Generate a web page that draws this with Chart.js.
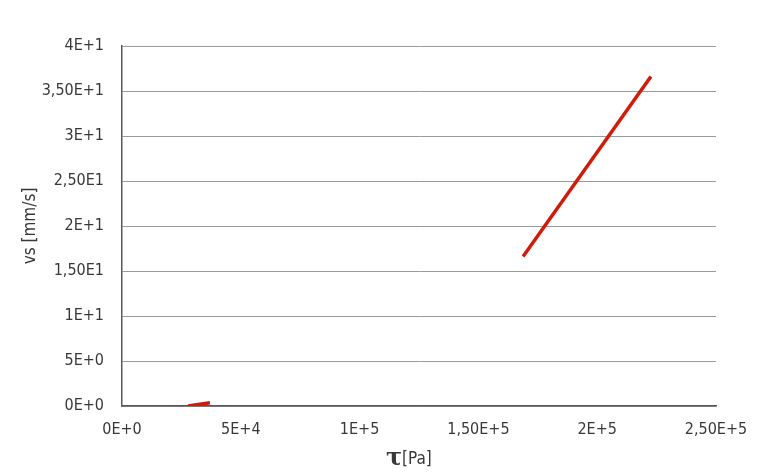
<!DOCTYPE html>
<html>
<head>
<meta charset="utf-8">
<script src="https://cdn.jsdelivr.net/npm/chart.js@4/dist/chart.umd.min.js"></script>
<style>
  body { margin: 0; background: #fff; }
  #wrap { position: relative; width: 768px; height: 476px; }
</style>
</head>
<body>
<div id="wrap"><canvas id="chart" width="768" height="476"></canvas></div>
<script>
// data
const lowTau = [27800, 37000];
const lowVs = [0.0, 0.35];
const highTau = [168800, 222600];
const highVs = [16.6, 36.6];

const xTicks = [0, 50000, 100000, 150000, 200000, 250000];
const xLabels = ["0E+0", "5E+4", "1E+5", "1,50E+5", "2E+5", "2,50E+5"];
const yTicks = [0, 5, 10, 15, 20, 25, 30, 35, 40];
const yLabels = ["0E+0", "5E+0", "1E+1", "1,50E1", "2E+1", "2,50E1", "3E+1", "3,50E+1", "4E+1"];

const toPoints = (xs, ys) => xs.map((x, i) => ({ x: x, y: ys[i] }));

const lineColor = "#d11a08";
const textColor = "#383838";
const font = "'DejaVu Sans Condensed', 'DejaVu Sans', sans-serif";

// axis titles, x one has a big tau and a smaller [Pa]
const titles = {
  id: "titles",
  afterDraw(chart) {
    const ctx = chart.ctx;
    const area = chart.chartArea;
    ctx.save();
    ctx.fillStyle = textColor;
    ctx.textBaseline = "alphabetic";
    ctx.textAlign = "left";
    ctx.font = "bold 24px 'DejaVu Serif', serif";
    ctx.fillText("\u03c4", 386, 465);
    ctx.font = "17px " + font;
    ctx.fillText("[Pa]", 402, 464);

    ctx.translate(31, (area.top + area.bottom) / 2);
    ctx.rotate(-Math.PI / 2);
    ctx.textAlign = "center";
    ctx.textBaseline = "middle";
    ctx.font = "17px " + font;
    ctx.fillText("vs [mm/s]", 0, 0);
    ctx.restore();
  }
};

new Chart(document.getElementById("chart"), {
  type: "scatter",
  data: {
    datasets: [
      { data: toPoints(lowTau, lowVs), showLine: true, borderColor: lineColor, borderWidth: 3.5, pointRadius: 0 },
      { data: toPoints(highTau, highVs), showLine: true, borderColor: lineColor, borderWidth: 3.5, pointRadius: 0 }
    ]
  },
  options: {
    responsive: false,
    animation: false,
    layout: { padding: { left: 0, right: 52, top: 46, bottom: 0 } },
    plugins: { legend: { display: false }, tooltip: { enabled: false } },
    scales: {
      x: {
        type: "linear",
        min: 0,
        max: 250000,
        afterBuildTicks: (s) => { s.ticks = xTicks.map((v) => ({ value: v })); },
        afterFit: (s) => { s.height = 70; },
        grid: { display: false, drawTicks: false },
        border: { display: true, color: "#595959", width: 1.5 },
        ticks: {
          padding: 14,
          color: textColor,
          font: { family: font, size: 16 },
          maxRotation: 0,
          callback: (v) => xLabels[xTicks.indexOf(v)]
        }
      },
      y: {
        type: "linear",
        min: 0,
        max: 40,
        afterBuildTicks: (s) => { s.ticks = yTicks.map((v) => ({ value: v })); },
        afterFit: (s) => { s.width = 122; },
        grid: { color: "#9a9a9a", lineWidth: 1, drawTicks: false },
        border: { display: true, color: "#595959", width: 1.5 },
        ticks: {
          padding: 18,
          color: textColor,
          font: { family: font, size: 16 },
          callback: (v) => yLabels[yTicks.indexOf(v)]
        }
      }
    }
  },
  plugins: [titles]
});
</script>
</body>
</html>
